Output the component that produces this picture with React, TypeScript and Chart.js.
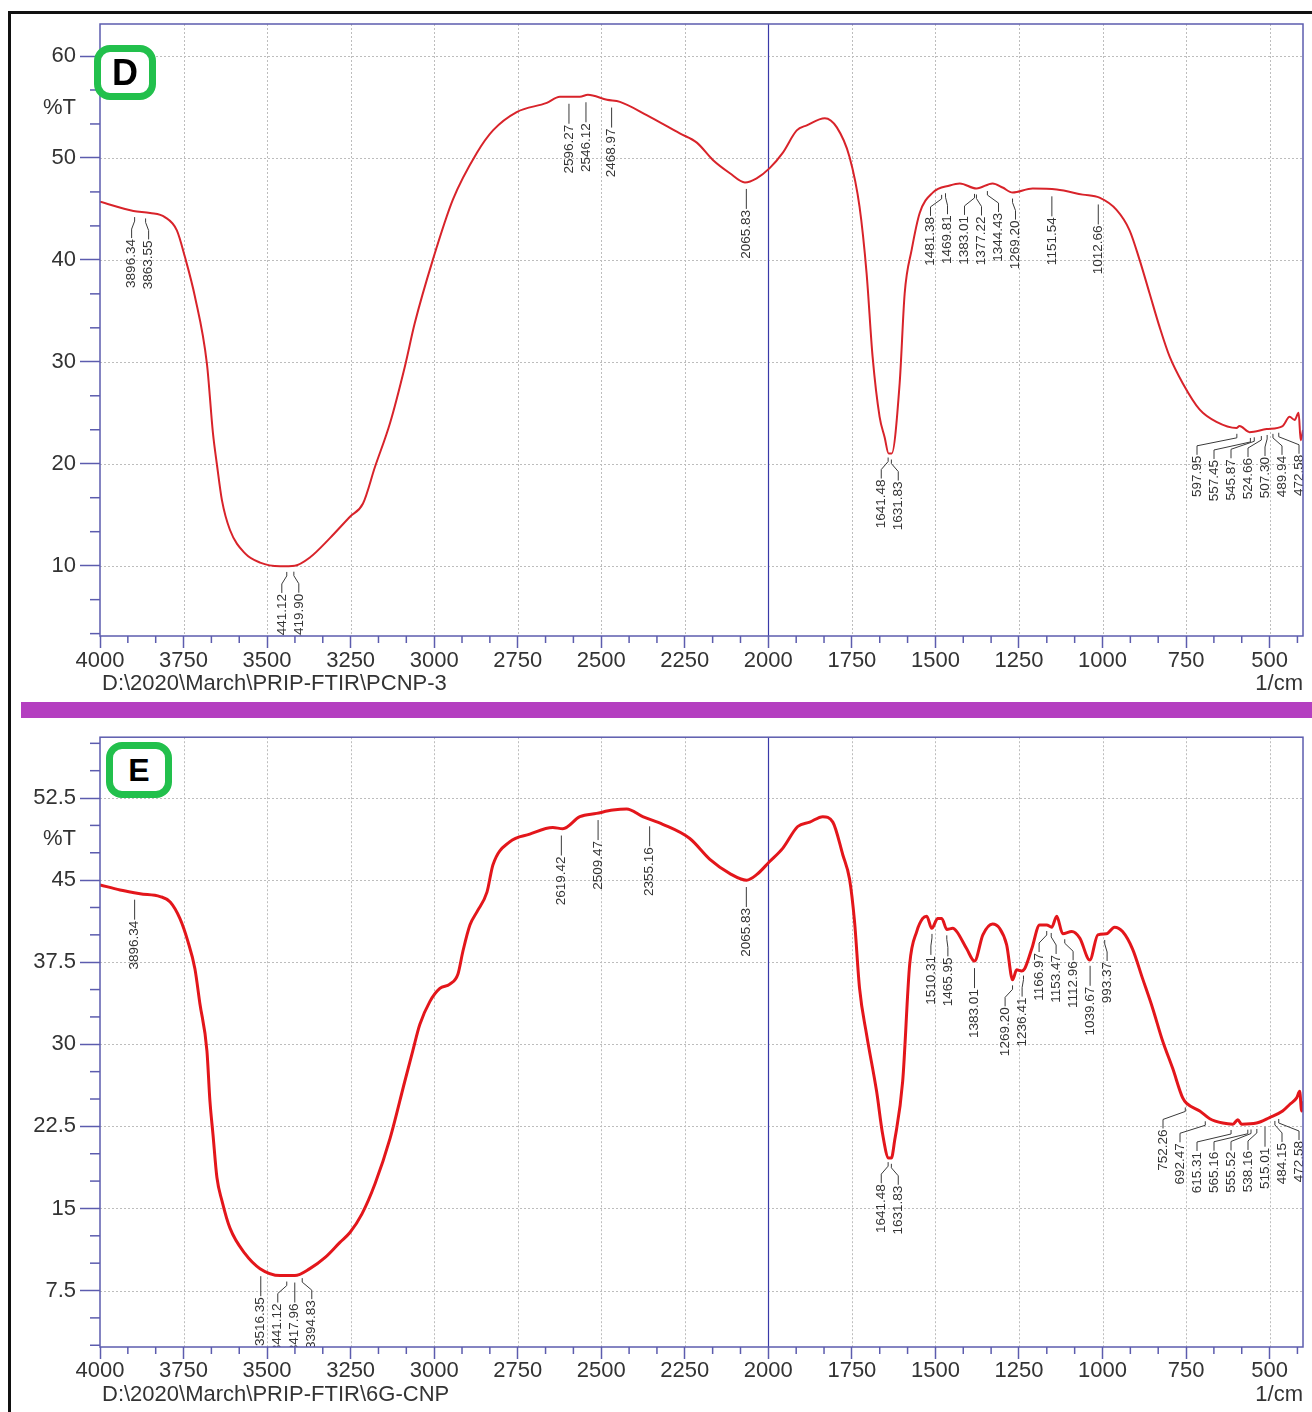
import React, { useEffect, useRef } from 'react';
import { Chart, registerables } from 'chart.js';

Chart.register(...registerables);

// ---------- data ----------
const xTicks = [4000, 3750, 3500, 3250, 3000, 2750, 2500, 2250, 2000, 1750, 1500, 1250, 1000, 750, 500];
const xMin = 400;
const xMax = 4000;

const dYTicks = [10, 20, 30, 40, 50, 60];
const dYMin = 3.1;
const dYMax = 63.14;

const eYTicks = [7.5, 15, 22.5, 30, 37.5, 45, 52.5];
const eYMin = 2.34;
const eYMax = 58.06;

const dWave = [4000, 3900, 3850, 3806, 3770, 3746, 3716, 3680, 3662, 3650, 3635, 3611, 3566, 3521, 3461, 3417, 3372, 3312, 3252, 3213, 3177, 3132, 3088, 3058, 3004, 2944, 2872, 2824, 2753, 2663, 2624, 2564, 2540, 2483, 2444, 2364, 2265, 2214, 2166, 2115, 2070, 2035, 1996, 1957, 1915, 1885, 1831, 1795, 1757, 1727, 1706, 1688, 1667, 1652, 1640, 1631, 1607, 1592, 1571, 1547, 1508, 1457, 1427, 1377, 1329, 1299, 1269, 1209, 1137, 1059, 1009, 958, 919, 889, 859, 829, 799, 760, 709, 659, 599, 590, 560, 509, 461, 440, 425, 413, 407, 400];
const dTrans = [45.7, 44.8, 44.6, 44.2, 42.9, 40.3, 36.4, 29.8, 23.0, 19.9, 16.4, 13.5, 11.2, 10.3, 9.95, 10.0, 10.8, 12.7, 14.8, 16.1, 19.7, 24.0, 29.5, 33.8, 40.0, 45.9, 50.5, 52.7, 54.5, 55.4, 56.0, 56.0, 56.2, 55.7, 55.5, 54.2, 52.4, 51.5, 49.8, 48.5, 47.6, 48.0, 49.0, 50.5, 52.7, 53.2, 53.9, 53.0, 50.1, 45.2, 38.7, 30.5, 24.6, 22.6, 21.0, 21.0, 27.9, 36.7, 41.0, 44.6, 46.6, 47.3, 47.5, 47.0, 47.5, 47.1, 46.6, 47.0, 46.9, 46.4, 46.1, 44.9, 42.9, 40.0, 36.7, 33.4, 30.5, 27.9, 25.3, 24.1, 23.5, 23.7, 23.1, 23.4, 23.7, 24.6, 24.3, 25.0, 22.3, 23.3];
const dPeaks = [3896.34, 3863.55, 3441.12, 3419.90, 2596.27, 2546.12, 2468.97, 2065.83, 1641.48, 1631.83, 1481.38, 1469.81, 1383.01, 1377.22, 1344.43, 1269.20, 1151.54, 1012.66, 597.95, 557.45, 545.87, 524.66, 507.30, 489.94, 472.58];

const eWave = [4000, 3940, 3880, 3820, 3790, 3761, 3737, 3716, 3701, 3680, 3671, 3662, 3650, 3635, 3611, 3566, 3521, 3461, 3417, 3372, 3327, 3282, 3252, 3216, 3177, 3132, 3088, 3064, 3043, 3013, 2983, 2953, 2929, 2914, 2893, 2872, 2842, 2824, 2774, 2714, 2645, 2615, 2564, 2514, 2465, 2424, 2376, 2316, 2235, 2175, 2115, 2065, 2035, 1996, 1957, 1912, 1876, 1837, 1807, 1777, 1757, 1742, 1727, 1706, 1676, 1658, 1640, 1632, 1622, 1598, 1577, 1556, 1538, 1526, 1511, 1493, 1481, 1466, 1448, 1436, 1406, 1383, 1358, 1329, 1308, 1287, 1269, 1257, 1242, 1233, 1212, 1188, 1167, 1152, 1137, 1119, 1092, 1068, 1038, 1014, 988, 964, 940, 910, 880, 850, 820, 790, 760, 748, 709, 679, 640, 610, 595, 584, 539, 500, 461, 440, 419, 410, 404, 400];
const eTrans = [44.57, 44.1, 43.76, 43.5, 43.0, 41.5, 39.4, 36.9, 33.7, 29.4, 24.8, 21.8, 17.8, 15.7, 13.2, 10.87, 9.5, 8.87, 8.87, 9.5, 10.5, 11.9, 12.8, 14.5, 17.25, 21.4, 26.6, 29.4, 31.8, 33.9, 35.1, 35.5, 36.4, 38.5, 40.9, 42.1, 43.9, 46.4, 48.5, 49.2, 49.8, 49.7, 50.8, 51.1, 51.4, 51.5, 50.8, 50.1, 48.8, 46.9, 45.6, 45.0, 45.5, 46.7, 47.9, 49.9, 50.3, 50.8, 50.3, 47.3, 45.1, 41.2, 35.1, 30.9, 25.7, 21.8, 19.6, 19.6, 21.2, 26.6, 37.3, 40.3, 41.5, 41.7, 40.6, 41.5, 41.5, 40.5, 40.6, 40.3, 38.7, 37.6, 40.0, 41.0, 40.6, 39.1, 35.9, 36.8, 36.7, 36.9, 38.7, 40.9, 40.9, 40.7, 41.7, 40.1, 40.3, 39.7, 37.7, 40.0, 40.1, 40.7, 40.3, 38.7, 36.0, 33.3, 30.3, 27.8, 25.1, 24.6, 23.9, 23.2, 22.8, 22.7, 23.1, 22.7, 22.8, 23.3, 23.9, 24.5, 25.1, 25.7, 23.9, 24.8];
const ePeaks = [3896.34, 3516.35, 3441.12, 3417.96, 3394.83, 2619.42, 2509.47, 2355.16, 2065.83, 1641.48, 1631.83, 1510.31, 1465.95, 1383.01, 1269.20, 1236.41, 1166.97, 1153.47, 1112.96, 1039.67, 993.37, 752.26, 692.47, 615.31, 565.16, 555.52, 538.16, 515.01, 484.15, 472.58];

const dFile = 'D:\\2020\\March\\PRIP-FTIR\\PCNP-3';
const eFile = 'D:\\2020\\March\\PRIP-FTIR\\6G-CNP';
const yUnit = '%T';
const xUnit = '1/cm';

// ---------- styling ----------
const FONT = "'Liberation Sans', Arial, sans-serif";
const FRAME = '#5c5cae';
const GRID = '#bdbdbd';
const TEXT = '#333333';

function interp(xs: number[], ys: number[], v: number) {
  for (let i = 0; i < xs.length - 1; i++) {
    const a = xs[i], b = xs[i + 1];
    if ((a >= v && v >= b) || (a <= v && v <= b)) {
      const t = (v - a) / (b - a || 1);
      return ys[i] + t * (ys[i + 1] - ys[i]);
    }
  }
  return ys[ys.length - 1];
}

function placeLabels(xs: number[], gap: number, lo: number, hi: number) {
  let clusters = xs.map((v) => ({ n: 1, sum: v }));
  const pos = (c: { n: number; sum: number }) => {
    let s = c.sum / c.n - ((c.n - 1) * gap) / 2;
    s = Math.min(hi - (c.n - 1) * gap, s);
    s = Math.max(lo, s);
    return s;
  };
  let changed = true;
  while (changed) {
    changed = false;
    for (let i = 0; i < clusters.length - 1; i++) {
      const a = clusters[i], b = clusters[i + 1];
      if (pos(a) + a.n * gap > pos(b) + 0.01) {
        clusters.splice(i, 2, { n: a.n + b.n, sum: a.sum + b.sum });
        changed = true;
        break;
      }
    }
  }
  const out: number[] = [];
  for (const c of clusters) {
    const s = pos(c);
    for (let k = 0; k < c.n; k++) out.push(s + k * gap);
  }
  return out;
}

type PanelCfg = {
  wave: number[];
  trans: number[];
  peaks: number[];
  yTicks: number[];
  yMin: number;
  yMax: number;
  file: string;
  lineColor: string;
  lineWidth: number;
  padTop: number;
  xAxisH: number;
  xPad: number;
  yTitleDy: number;
};

function makePlugin(p: PanelCfg) {
  return {
    id: 'ftirDecor',
    beforeDatasetsDraw(chart: any) {
      const { ctx, chartArea: a, scales } = chart;
      const x = scales.x, y = scales.y;
      ctx.save();
      ctx.strokeStyle = GRID;
      ctx.lineWidth = 1;
      ctx.setLineDash([2, 2]);
      for (const v of xTicks) {
        if (v === 2000 || v === 4000) continue;
        const px = Math.round(x.getPixelForValue(v)) + 0.5;
        ctx.beginPath();
        ctx.moveTo(px, a.top);
        ctx.lineTo(px, a.bottom);
        ctx.stroke();
      }
      for (const v of p.yTicks) {
        const py = Math.round(y.getPixelForValue(v)) + 0.5;
        ctx.beginPath();
        ctx.moveTo(a.left, py);
        ctx.lineTo(a.right, py);
        ctx.stroke();
      }
      ctx.setLineDash([]);
      ctx.strokeStyle = '#3a3aa8';
      ctx.lineWidth = 1.2;
      const p2 = Math.round(x.getPixelForValue(2000)) + 0.5;
      ctx.beginPath();
      ctx.moveTo(p2, a.top);
      ctx.lineTo(p2, a.bottom);
      ctx.stroke();
      ctx.restore();
    },
    afterDatasetsDraw(chart: any) {
      const { ctx, chartArea: a, scales } = chart;
      const x = scales.x, y = scales.y;
      ctx.save();
      ctx.beginPath();
      ctx.rect(a.left, a.top, a.right - a.left, a.bottom - a.top);
      ctx.clip();
      const txs = p.peaks.map((v) => x.getPixelForValue(v));
      const lxs = placeLabels(txs, 17, a.left + 6, a.right - 4);
      ctx.strokeStyle = '#3a3a3a';
      ctx.fillStyle = TEXT;
      ctx.lineWidth = 1;
      ctx.font = `13.5px ${FONT}`;
      p.peaks.forEach((v, i) => {
        const cy = y.getPixelForValue(interp(p.wave, p.trans, v));
        const tx = txs[i], lx = lxs[i];
        ctx.beginPath();
        if (Math.abs(tx - lx) < 1) {
          ctx.moveTo(lx, cy + 7);
          ctx.lineTo(lx, cy + 27);
        } else {
          ctx.moveTo(tx, cy + 6);
          ctx.lineTo(tx, cy + 10);
          ctx.lineTo(lx, cy + 18);
          ctx.lineTo(lx, cy + 27);
        }
        ctx.stroke();
        ctx.save();
        ctx.translate(lx, cy + 28);
        ctx.rotate(-Math.PI / 2);
        ctx.textAlign = 'right';
        ctx.textBaseline = 'middle';
        ctx.fillText(v.toFixed(2), 0, 0);
        ctx.restore();
      });
      ctx.restore();
    },
    afterDraw(chart: any) {
      const { ctx, chartArea: a, scales } = chart;
      const x = scales.x, y = scales.y;
      ctx.save();
      // minor ticks
      ctx.strokeStyle = FRAME;
      ctx.lineWidth = 1.5;
      const xs = (xTicks[0] - xTicks[1]) / 3;
      for (let k = 0; xTicks[0] - k * xs >= xMin - 1e-6; k++) {
        if (k % 3 === 0) continue;
        const px = x.getPixelForValue(xTicks[0] - k * xs);
        ctx.beginPath();
        ctx.moveTo(px, a.bottom);
        ctx.lineTo(px, a.bottom + 7);
        ctx.stroke();
      }
      const ys = (p.yTicks[1] - p.yTicks[0]) / 3;
      for (let k = -12; k < 40; k++) {
        if (k % 3 === 0) continue;
        const v = p.yTicks[0] + k * ys;
        if (v < p.yMin || v > p.yMax) continue;
        const py = y.getPixelForValue(v);
        ctx.beginPath();
        ctx.moveTo(a.left - 10, py);
        ctx.lineTo(a.left, py);
        ctx.stroke();
      }
      // frame
      ctx.lineWidth = 1.5;
      ctx.strokeRect(a.left, a.top, a.right - a.left, a.bottom - a.top);
      // texts
      ctx.fillStyle = TEXT;
      ctx.font = `22px ${FONT}`;
      ctx.textBaseline = 'middle';
      ctx.textAlign = 'right';
      ctx.fillText(yUnit, a.left - 24, a.top + p.yTitleDy);
      ctx.fillText(xUnit, a.right, a.bottom + 48);
      ctx.textAlign = 'left';
      ctx.fillText(p.file, a.left + 2, a.bottom + 48);
      ctx.restore();
    },
  };
}

function Panel({ top, height, cfg }: { top: number; height: number; cfg: PanelCfg }) {
  const ref = useRef<HTMLCanvasElement>(null);
  useEffect(() => {
    if (!ref.current) return;
    const chart = new Chart(ref.current, {
      type: 'line',
      data: {
        datasets: [
          {
            data: cfg.wave.map((w, i) => ({ x: w, y: cfg.trans[i] })),
            borderColor: cfg.lineColor,
            borderWidth: cfg.lineWidth,
            pointRadius: 0,
            cubicInterpolationMode: 'monotone',
            fill: false,
          },
        ],
      },
      options: {
        animation: false,
        responsive: false,
        devicePixelRatio: 1,
        events: [],
        layout: { padding: { left: 0, right: 9, top: cfg.padTop, bottom: 0 } },
        plugins: { legend: { display: false }, tooltip: { enabled: false } },
        scales: {
          x: {
            type: 'linear',
            min: xMin,
            max: xMax,
            reverse: true,
            afterBuildTicks: (s: any) => {
              s.ticks = [...xTicks].reverse().map((v) => ({ value: v }));
            },
            afterFit: (s: any) => {
              s.height = cfg.xAxisH;
            },
            ticks: {
              callback: (v: any) => String(v),
              maxRotation: 0,
              minRotation: 0,
              autoSkip: false,
              padding: cfg.xPad,
              color: TEXT,
              font: { size: 22, family: FONT },
            },
            grid: { drawOnChartArea: false, drawTicks: true, tickLength: 12, tickColor: FRAME, tickWidth: 1.5 },
            border: { display: false },
          },
          y: {
            type: 'linear',
            min: cfg.yMin,
            max: cfg.yMax,
            afterBuildTicks: (s: any) => {
              s.ticks = cfg.yTicks.map((v) => ({ value: v }));
            },
            afterFit: (s: any) => {
              s.width = 100;
            },
            ticks: {
              callback: (v: any) => String(v),
              padding: 4,
              color: TEXT,
              font: { size: 22, family: FONT },
            },
            grid: { drawOnChartArea: false, drawTicks: true, tickLength: 20, tickColor: FRAME, tickWidth: 1.5 },
            border: { display: false },
          },
        },
      } as any,
      plugins: [makePlugin(cfg)],
    });
    return () => chart.destroy();
  }, []);
  return (
    <canvas
      ref={ref}
      width={1312}
      height={height}
      style={{ position: 'absolute', left: 0, top, width: 1312, height }}
    />
  );
}

const badge = (left: number, top: number, w: number, h: number, letter: string, size: number) => (
  <div
    style={{
      position: 'absolute',
      left,
      top,
      width: w,
      height: h,
      boxSizing: 'border-box',
      border: '7px solid #22c04c',
      borderRadius: 16,
      background: '#ffffff',
      display: 'flex',
      alignItems: 'center',
      justifyContent: 'center',
      fontFamily: FONT,
      fontWeight: 700,
      fontSize: size,
      color: '#000',
      lineHeight: 1,
    }}
  >
    {letter}
  </div>
);

export default function App() {
  const dCfg: PanelCfg = {
    wave: dWave,
    trans: dTrans,
    peaks: dPeaks,
    yTicks: dYTicks,
    yMin: dYMin,
    yMax: dYMax,
    file: dFile,
    lineColor: '#d8232a',
    lineWidth: 2,
    padTop: 24,
    xAxisH: 64,
    xPad: 0,
    yTitleDy: 84,
  };
  const eCfg: PanelCfg = {
    wave: eWave,
    trans: eTrans,
    peaks: ePeaks,
    yTicks: eYTicks,
    yMin: eYMin,
    yMax: eYMax,
    file: eFile,
    lineColor: '#e3161b',
    lineWidth: 3,
    padTop: 15,
    xAxisH: 65,
    xPad: -1,
    yTitleDy: 102,
  };
  return (
    <div
      style={{
        position: 'absolute',
        left: 0,
        top: 0,
        width: 1312,
        height: 1412,
        overflow: 'hidden',
        background: '#ffffff',
      }}
    >
      <div
        style={{
          position: 'absolute',
          left: 8,
          top: 11,
          width: 1400,
          height: 1500,
          borderLeft: '3px solid #111',
          borderTop: '3px solid #111',
        }}
      />
      <div style={{ position: 'absolute', left: 21, top: 702, width: 1300, height: 16, background: '#b43fc0' }} />
      <Panel top={0} height={700} cfg={dCfg} />
      <Panel top={720} height={692} cfg={eCfg} />
      {badge(94, 45, 62, 55, 'D', 36)}
      {badge(106, 742, 66, 56, 'E', 32)}
    </div>
  );
}
